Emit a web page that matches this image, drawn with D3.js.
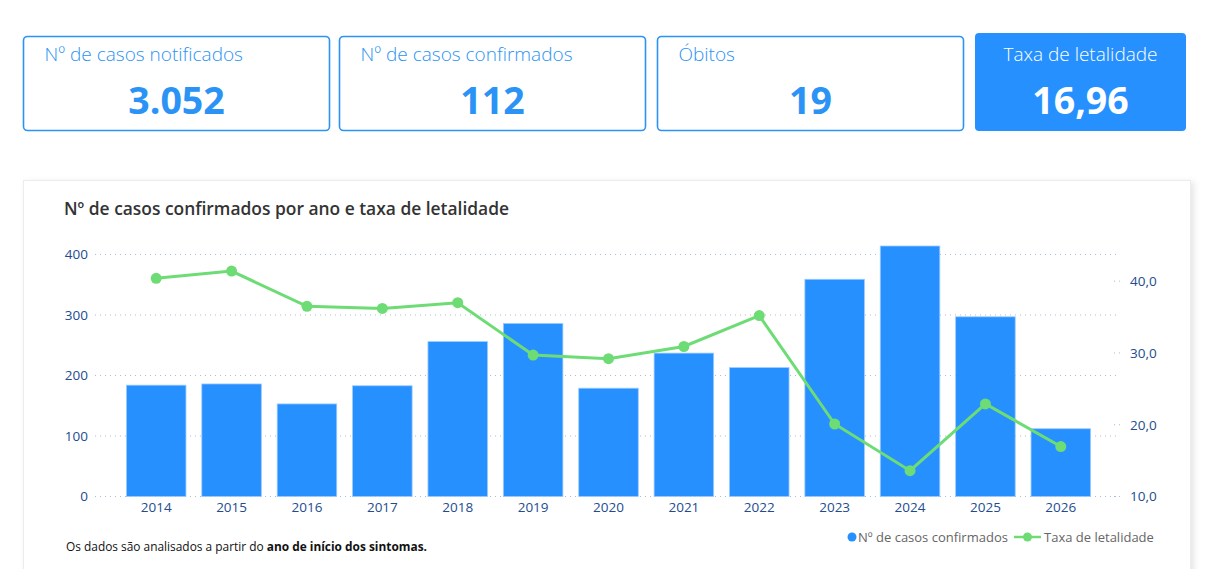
<!DOCTYPE html>
<html><head><meta charset="utf-8">
<script src="https://cdn.jsdelivr.net/npm/d3@7"></script>
<style>
html,body{margin:0;padding:0;background:#fff;}
svg{display:block;font-family:"Open Sans","Noto Sans",sans-serif;}
</style></head>
<body>
<svg id="c" width="1206" height="569"></svg>
<script>
const years = ["2014","2015","2016","2017","2018","2019","2020","2021","2022","2023","2024","2025","2026"];
const confirmed = [184,186,153,183,256,286,179,237,213,359,414,297,112];
const lethality = [40.4,41.4,36.5,36.2,37.0,29.7,29.2,30.9,35.2,20.1,13.6,22.9,16.96];
const leftTicks = [0,100,200,300,400];
const rightTicks = [10,20,30,40];
const kpiLabels = ["Nº de casos notificados","Nº de casos confirmados","Óbitos","Taxa de letalidade"];
const kpiValues = ["3.052","112","19","16,96"];

const svg = d3.select("#c");
const blue = "#2690FF", green = "#6EDC74", axisCol = "#234C8F";

// KPI cards
const cards = [
  {x:23.5,y:36.5,w:306,h:94},
  {x:339.5,y:36.5,w:306,h:94},
  {x:657.5,y:36.5,w:306,h:94},
  {x:975,y:33,w:211,h:98}
];
cards.forEach((c,i)=>{
  const filled = i===3;
  svg.append("rect").attr("x",c.x).attr("y",c.y).attr("width",c.w).attr("height",c.h)
    .attr("rx",4).attr("fill",filled?blue:"#fff").attr("stroke",filled?"none":"#2A93F5").attr("stroke-width",1.6);
  svg.append("text").attr("x",filled?c.x+c.w/2:c.x+21).attr("y",61)
    .attr("text-anchor",filled?"middle":"start").attr("font-size",19).attr("font-weight",300)
    .attr("fill",filled?"#fff":"#2A93F5").text(kpiLabels[i]);
  svg.append("text").attr("x",c.x+c.w/2).attr("y",114).attr("text-anchor","middle")
    .attr("font-size",37.5).attr("font-weight",700).attr("fill",filled?"#fff":"#2A93F5").text(kpiValues[i]);
});

// chart panel
const defs = svg.append("defs");
const f = defs.append("filter").attr("id","sh").attr("x","-5%").attr("y","-5%").attr("width","110%").attr("height","120%");
f.append("feDropShadow").attr("dx",3).attr("dy",2).attr("stdDeviation",3).attr("flood-color","#000").attr("flood-opacity",0.10);
svg.append("rect").attr("x",23.5).attr("y",180.5).attr("width",1167).attr("height",400)
  .attr("fill","#fff").attr("stroke","#ececec").attr("filter","url(#sh)");

svg.append("text").attr("x",64).attr("y",215).attr("font-size",17.4).attr("font-weight",600)
  .attr("fill","#333").text("Nº de casos confirmados por ano e taxa de letalidade");

const x = d3.scaleBand().domain(years).range([118.5,1098.5]).paddingInner(0.21).paddingOuter(0.105);
const yL = d3.scaleLinear().domain([0,414]).range([496.5,246]);
const yR = d3.scaleLinear().domain([10,44.9]).range([496.5,246]);

// gridlines
const g = svg.append("g");
g.selectAll("line.grid").data(leftTicks).join("line")
  .attr("x1",95).attr("x2",1120).attr("y1",d=>yL(d)).attr("y2",d=>yL(d))
  .attr("stroke","#A9BBD6").attr("stroke-width",1).attr("stroke-dasharray","1,4");
g.selectAll("line.rt").data(rightTicks).join("line")
  .attr("x1",1114).attr("x2",1120).attr("y1",d=>yR(d)).attr("y2",d=>yR(d))
  .attr("stroke","#A9BBD6").attr("stroke-dasharray","1,4");

// axes
const axL = svg.append("g").attr("transform","translate(88,0)")
  .call(d3.axisLeft(yL).tickValues(leftTicks).tickSize(0).tickPadding(0));
const axR = svg.append("g").attr("transform","translate(1130,0)")
  .call(d3.axisRight(yR).tickValues(rightTicks).tickSize(0).tickPadding(0).tickFormat(d=>d3.format(".1f")(d).replace(".",",")));
const axX = svg.append("g").attr("transform","translate(0,501)")
  .call(d3.axisBottom(x).tickSize(0).tickPadding(0));
[axL,axR,axX].forEach(a=>{
  a.select(".domain").remove();
  a.selectAll("text").attr("fill",axisCol).attr("font-size",13.5).attr("font-weight",500).attr("font-family","\"Open Sans\",sans-serif");
});
axX.selectAll("text").attr("dy","0.71em").attr("y",1);

// bars
svg.append("g").selectAll("rect").data(years).join("rect")
  .attr("x",d=>x(d)).attr("width",x.bandwidth())
  .attr("y",(d,i)=>yL(confirmed[i])).attr("height",(d,i)=>yL(0)-yL(confirmed[i]))
  .attr("fill",blue).attr("stroke","#9CCBFF").attr("stroke-width",0.8);

// line
const line = d3.line().x((d,i)=>x(years[i])+x.bandwidth()/2).y(d=>yR(d));
svg.append("path").datum(lethality).attr("d",line).attr("fill","none")
  .attr("stroke",green).attr("stroke-width",3);
svg.append("g").selectAll("circle").data(lethality).join("circle")
  .attr("cx",(d,i)=>x(years[i])+x.bandwidth()/2).attr("cy",d=>yR(d)).attr("r",5.5).attr("fill",green);

// legend
const lg = svg.append("g");
lg.append("circle").attr("cx",852).attr("cy",537).attr("r",4.5).attr("fill",blue);
lg.append("text").attr("x",858).attr("y",542).attr("font-size",13).attr("fill","#666").text("Nº de casos confirmados");
lg.append("line").attr("x1",1014).attr("x2",1041).attr("y1",537).attr("y2",537).attr("stroke",green).attr("stroke-width",2.5);
lg.append("circle").attr("cx",1027.5).attr("cy",537).attr("r",4.5).attr("fill",green);
lg.append("text").attr("x",1044).attr("y",542).attr("font-size",13).attr("fill","#666").text("Taxa de letalidade");

// footnote
const fn = svg.append("text").attr("x",66).attr("y",551).attr("font-size",11.9).attr("fill","#111");
fn.append("tspan").text("Os dados são analisados a partir do ");
fn.append("tspan").attr("font-weight",700).text("ano de início dos sintomas.");
</script>
</body></html>
